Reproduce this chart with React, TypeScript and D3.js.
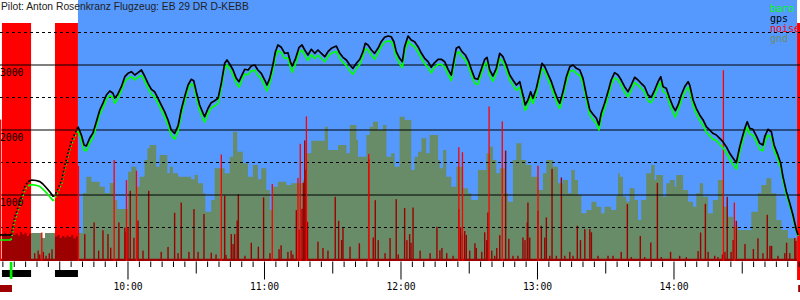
import React from "react";
import * as d3 from "d3";

const W = 800;
const H = 300;
const PLOT_BOTTOM = 261;

const TITLE = "Pilot: Anton Rosenkranz Flugzeug: EB 29 DR D-KEBB";
const HOUR_TICKS = [60, 120, 180, 240, 300];
const HOUR_LABELS = ["10:00", "11:00", "12:00", "13:00", "14:00"];
const ALT_LABELS = [1000, 2000, 3000];
const ALT_GRID_SOLID = [1000, 2000, 3000];
const ALT_GRID_DASHED = [500, 1500, 2500, 3500];
const LEGEND_LABELS = ["baro", "gps", "noise", "gnd"];

// time in minutes after 09:00
const ENGINE_RUNS: [number, number][] = [[4.6, 17.4], [27.9, 38.0]];
const ENGINE_END: [number, number] = [354.1, 355.4];
const FLIGHT_BG: [number, number] = [38.0, 354.1];
const TAKEOFF = 8.6;
const DARKRED_MARKS: [number, number][] = [[3.7, 9.0], [354.6, 355.4]];
const DOTTED_RANGES: [number, number][] = [[8.6, 16.0], [27.2, 38.0]];

const GPS: [number, number][] = [
  [3.7,385],[8.1,385],[8.6,385],[10.3,666],[12.5,897],[14.7,1138],[16.0,1205],[17.7,1231],[19.6,1223],[21.3,1205],[22.6,1169],[24.3,1103],[25.7,1046],[27.2,974],[28.7,1051],[30.9,1231],[32.3,1462],[33.8,1666],[35.3,1846],[37.1,1974],
  [38.0,2051],[39.5,1923],[40.7,1769],[41.7,1754],[43.2,1877],[44.6,1954],[46.1,2128],[47.6,2308],[49.0,2415],[50.5,2538],[52.0,2600],[53.4,2565],[54.2,2492],[55.3,2538],[57.1,2666],[58.6,2820],[60.0,2872],[61.5,2897],[63.0,2846],[64.4,2882],[65.9,2923],[67.3,2831],[68.8,2718],[70.3,2626],[71.7,2589],[73.2,2488],[74.6,2385],[76.1,2282],[77.6,2154],[79.0,2000],[80.5,1949],[82.0,2062],[83.4,2308],[84.9,2512],[86.4,2692],[87.8,2780],[88.9,2758],[90.0,2589],[91.5,2385],[93.0,2257],[93.7,2205],[95.2,2334],[96.6,2420],[98.1,2451],[99.6,2488],[101.0,2718],[102.5,3026],[103.5,3077],[104.7,3015],[106.2,2923],[107.6,2795],[108.8,2743],[110.1,2846],[111.3,2934],[112.8,2923],[114.2,2985],[115.7,3000],[117.1,2923],
  [118.6,2872],[120.1,2769],[121.1,2692],[122.3,2795],[123.7,3000],[124.8,3205],[125.9,3308],[127.4,3272],[128.9,3180],[130.3,3189],[131.5,3035],[132.2,2985],[133.7,3103],[135.2,3272],[136.5,3308],[137.7,3231],[139.1,3154],[140.6,3242],[142.1,3180],[143.5,3231],[145.0,3180],[146.5,3128],[147.9,3205],[149.4,3257],[151.6,3292],[153.1,3180],[154.5,3118],[156.0,3077],[157.5,3000],[158.9,2949],[160.4,3026],[161.9,3088],[163.3,3205],[164.3,3334],[165.5,3308],[167.0,3231],[168.4,3180],[169.9,3257],[171.3,3358],[172.8,3426],[174.3,3446],[175.7,3435],[176.9,3358],[177.9,3205],[179.4,3103],[180.6,3051],[181.6,3282],[183.1,3446],[184.5,3385],[186.0,3358],[187.5,3282],[189.0,3180],[190.4,3103],[191.9,3051],[193.3,2965],[194.5,3026],[196.3,3088],
  [197.7,3088],[199.2,3051],[200.7,2934],[202.1,2846],[203.3,3077],[204.3,3257],[205.5,3282],[206.8,3205],[208.3,3154],[209.8,3051],[210.9,2934],[212.4,2795],[213.8,2780],[215.3,2934],[216.8,3088],[217.8,3118],[219.0,2923],[220.4,2831],[221.9,2949],[223.4,3180],[224.8,3128],[226.3,3000],[227.8,2846],[229.2,2769],[230.7,2692],[232.2,2743],[233.6,2538],[234.6,2385],[235.8,2462],[237.0,2589],[238.0,2488],[239.5,2642],[241.0,2872],[242.0,3026],[243.2,2974],[244.6,2862],[246.1,2743],[247.6,2589],[249.0,2462],[249.8,2411],[251.2,2589],[252.7,2820],[254.2,2974],[255.6,3000],[257.1,2949],[258.6,2923],[260.0,2795],[261.5,2538],[263.0,2308],[264.4,2242],[265.9,2180],[267.0,2077],[268.0,2257],[269.5,2411],[271.0,2589],[272.4,2769],[273.9,2882],[275.4,2846],
  [276.8,2769],[278.3,2666],[279.8,2589],[281.2,2692],[282.7,2811],[284.2,2769],[285.6,2718],[287.1,2666],[288.6,2538],[290.0,2503],[291.5,2615],[293.0,2743],[294.2,2820],[295.2,2666],[296.6,2642],[298.1,2488],[299.6,2358],[300.6,2297],[301.8,2385],[303.2,2538],[304.7,2666],[306.2,2743],[306.9,2692],[308.4,2462],[309.8,2334],[311.3,2231],[312.8,2154],[314.2,2051],[315.7,2000],[317.1,1949],[318.6,1923],[320.1,1872],[321.5,1820],[323.0,1743],[324.5,1641],[326.0,1565],[327.4,1497],[328.9,1743],[330.3,1923],[331.3,2041],[332.2,2128],[333.3,2026],[334.7,2011],[336.2,1908],[337.7,1795],[339.1,1769],[339.9,1897],[341.3,2011],[342.8,1974],[344.0,1769],[345.4,1641],[346.9,1488],[347.9,1282],[349.4,1051],[350.9,872],[352.3,692],[353.8,462],[354.5,385]
];

const BARO: [number, number][] = [
  [3.7,308],[8.1,308],[8.6,310],[10.3,610],[12.5,840],[14.7,1080],[16.0,1140],[17.7,1160],[19.6,1150],[21.3,1130],[22.6,1090],[24.3,1030],[25.7,970],[27.2,910],[28.7,1000],[30.9,1180],[32.3,1410],[33.8,1620],[35.3,1790],[37.1,1930],
  [38.0,1990],[39.5,1850],[40.7,1690],[41.7,1680],[43.2,1800],[44.6,1880],[46.1,2060],[47.6,2240],[49.0,2340],[50.5,2470],[52.0,2530],[53.4,2500],[54.2,2410],[55.3,2470],[57.1,2600],[58.6,2750],[60.0,2790],[61.5,2820],[63.0,2770],[64.4,2810],[65.9,2840],[67.3,2760],[68.8,2640],[70.3,2550],[71.7,2510],[73.2,2410],[74.6,2310],[76.1,2200],[77.6,2080],[79.0,1920],[80.5,1860],[82.0,1980],[83.4,2230],[84.9,2440],[86.4,2620],[87.8,2710],[88.9,2690],[90.0,2510],[91.5,2300],[93.0,2170],[93.7,2120],[95.2,2250],[96.6,2340],[98.1,2370],[99.6,2410],[101.0,2640],[102.5,2950],[103.5,3000],[104.7,2940],[106.2,2840],[107.6,2720],[108.8,2660],[110.1,2770],[111.3,2860],[112.8,2850],[114.2,2910],[115.7,2920],[117.1,2840],
  [118.6,2790],[120.1,2680],[121.1,2600],[122.3,2710],[123.7,2920],[124.8,3120],[125.9,3220],[127.4,3190],[128.9,3100],[130.3,3110],[131.5,2950],[132.2,2890],[133.7,3020],[135.2,3190],[136.5,3230],[137.7,3150],[139.1,3070],[140.6,3160],[142.1,3100],[143.5,3150],[145.0,3100],[146.5,3050],[147.9,3130],[149.4,3180],[151.6,3210],[153.1,3100],[154.5,3040],[156.0,2990],[157.5,2910],[158.9,2860],[160.4,2940],[161.9,3010],[163.3,3130],[164.3,3250],[165.5,3230],[167.0,3150],[168.4,3090],[169.9,3180],[171.3,3280],[172.8,3350],[174.3,3370],[175.7,3360],[176.9,3280],[177.9,3120],[179.4,3020],[180.6,2960],[181.6,3200],[183.1,3370],[184.5,3310],[186.0,3280],[187.5,3200],[189.0,3100],[190.4,3020],[191.9,2960],[193.3,2880],[194.5,2950],[196.3,3010],
  [197.7,3010],[199.2,2970],[200.7,2850],[202.1,2760],[203.3,3000],[204.3,3180],[205.5,3200],[206.8,3130],[208.3,3080],[209.8,2970],[210.9,2850],[212.4,2720],[213.8,2700],[215.3,2860],[216.8,3010],[217.8,3040],[219.0,2840],[220.4,2750],[221.9,2870],[223.4,3100],[224.8,3050],[226.3,2920],[227.8,2770],[229.2,2690],[230.7,2610],[232.2,2660],[233.6,2460],[234.6,2300],[235.8,2380],[237.0,2510],[238.0,2410],[239.5,2560],[241.0,2790],[242.0,2950],[243.2,2900],[244.6,2780],[246.1,2660],[247.6,2510],[249.0,2380],[249.8,2330],[251.2,2510],[252.7,2740],[254.2,2900],[255.6,2920],[257.1,2870],[258.6,2840],[260.0,2710],[261.5,2460],[263.0,2230],[264.4,2160],[265.9,2100],[267.0,2000],[268.0,2180],[269.5,2330],[271.0,2510],[272.4,2690],[273.9,2800],[275.4,2770],
  [276.8,2690],[278.3,2580],[279.8,2510],[281.2,2610],[282.7,2730],[284.2,2690],[285.6,2640],[287.1,2580],[288.6,2450],[290.0,2420],[291.5,2530],[293.0,2660],[294.2,2740],[295.2,2590],[296.6,2560],[298.1,2400],[299.6,2270],[300.6,2200],[301.8,2300],[303.2,2450],[304.7,2580],[306.2,2660],[306.9,2610],[308.4,2380],[309.8,2250],[311.3,2150],[312.8,2070],[314.2,1970],[315.7,1910],[317.1,1860],[318.6,1840],[320.1,1780],[321.5,1730],[323.0,1650],[324.5,1550],[326.0,1470],[327.4,1400],[328.9,1660],[330.3,1840],[331.3,1960],[332.2,2040],[333.3,1940],[334.7,1920],[336.2,1820],[337.7,1700],[339.1,1680],[339.9,1810],[341.3,1920],[342.8,1890],[344.0,1690],[345.4,1570],[346.9,1420],[347.9,1230],[349.4,1000],[350.9,830],[352.3,660],[353.8,440],[354.5,370]
];

const GND: [number, number][] = [
  [17.4,415],[22.1,338],[23.5,415],[38.8,415],[40.2,1031],[41.7,1282],[43.9,1205],[47.6,1128],[49.8,1031],[52.0,1185],[54.2,923],[55.3,785],[60.0,1358],[61.5,1435],[63.7,1128],[65.1,1282],[67.3,1538],[68.5,1718],[69.5,1769],[72.4,1435],[73.9,1615],[77.3,1334],[78.3,1435],[79.8,1334],[82.0,1282],[87.8,1242],[89.3,1308],[90.8,1180],[93.0,1026],[94.0,743],[96.6,923],[98.1,1411],[102.5,1334],[104.7,1589],[106.2,1974],[108.0,1666],[110.5,1488],[112.7,1282],[114.9,1462],
  [117.1,1242],[118.6,1411],[120.8,1077],[122.3,769],[123.7,1128],[125.9,1205],[129.6,1154],[131.8,1180],[136.9,1231],[138.4,1641],[140.6,1835],[146.5,2051],[147.9,1692],[152.3,1769],[156.0,1641],[157.5,2077],[160.4,1846],[161.1,1589],[164.8,1923],[166.2,2051],[167.7,2128],[169.9,2000],[172.1,2077],[173.6,1589],[175.7,1641],[177.2,1435],[179.4,2205],[181.6,2154],[184.5,1385],[186.0,1589],[187.5,1666],[189.0,1872],[191.1,1641],[192.6,1923],
  [196.3,1538],[197.0,1411],[198.5,1692],[199.9,1282],[202.1,1128],[204.3,1435],[207.3,1103],[209.5,1026],[210.9,923],[213.8,1385],[217.5,1641],[219.0,1743],[220.4,1538],[221.9,1334],[223.4,1411],[225.6,1026],[227.0,897],[229.2,1538],[230.7,1795],[232.9,1538],[235.1,1462],[237.3,1282],[240.2,1077],[242.4,1334],[243.9,1538],[246.8,1435],[249.0,1180],[251.2,1231],[253.4,1026],[254.9,1385],[256.4,1231],[257.8,1000],[259.3,718],[261.5,769],[263.7,897],[265.9,820],[268.0,718],[269.5,820],[272.4,769],[274.6,985],
  [275.4,1334],[276.1,1282],[277.6,974],[279.0,897],[280.5,1103],[282.7,923],[284.2,615],[285.6,923],[287.8,1334],[290.0,1462],[291.5,1231],[292.2,1308],[295.2,974],[296.6,1180],[298.1,1231],[300.3,1128],[301.0,1308],[304.0,1077],[306.2,897],[308.4,820],[309.8,1026],[311.3,1180],[312.8,974],[315.0,718],[317.1,923],[319.3,1231],[321.5,820],[323.7,666],[326.0,513],[328.1,462],[334.0,743],[336.9,1026],[338.4,1154],[340.6,1257],[342.8,1026],[345.0,615],[347.2,462],[350.1,334],[354.1,334]
];

// noise (per mille of full height)
const NOISE_LEVEL: [number, number][] = [
  [3.7,9],[4.6,100],[5.5,108],[6.5,96],[7.5,104],[8.5,112],[9.5,100],[10.5,106],[11.5,98],[12.5,110],[13.5,102],[14.5,108],[15.5,96],[16.5,104],[17.4,9],
  [27.9,94],[29.0,100],[30.0,88],[31.0,96],[32.0,90],[33.0,98],[34.0,92],[35.0,100],[36.0,86],[37.0,94],[38.0,9],[354.1,9]
];

const NOISE_SPIKES: [number, number][] = [
  [19.0,30],[20.5,40],[21.2,25],[22.8,35],[24.0,20],[25.4,30],[26.6,45],
  [41.0,103],[45.1,148],[47.1,40],[49.0,118],[51.2,103],[52.4,51],[56.0,148],[58.6,128],[59.1,110],[60.0,128],[61.0,269],[62.6,89],[64.4,155],[66.6,40],[69.1,269],[74.6,35],[77.6,54],[80.5,185],[82.0,30],[83.4,224],[86.8,35],[89.0,199],[90.8,35],[93.4,180],[96.6,32],[98.7,25],[102.5,250],[103.1,23],[105.4,103],[106.2,65],[106.9,103],[108.0,155],[108.5,256],[111.4,20],[114.2,70],[117.3,55],
  [119.6,244],[122.4,30],[126.4,45],[127.3,60],[130.3,35],[131.7,40],[132.5,25],[134.0,195],[135.2,120],[136.5,200],[137.1,300],[137.7,462],[138.2,350],[138.9,150],[143.5,74],[145.7,50],[147.9,40],[151.1,246],[152.6,154],[153.9,80],[154.5,126],[157.6,55],[161.7,68],[165.8,390],[167.8,90],[168.7,233],[170.0,80],[173.0,30],[175.2,88],[177.9,237],[178.8,25],[181.6,203],[182.6,80],[183.8,103],[184.4,70],[185.3,205],[188.4,40],[192.8,30],[195.8,131],[197.1,41],[198.0,50],[200.1,30],
  [202.9,20],[205.4,199],[206.2,130],[207.0,100],[208.0,115],[208.7,100],[210.2,40],[212.5,68],[213.1,50],[215.5,35],[216.8,110],[217.7,80],[218.2,186],[219.9,40],[221.2,20],[222.1,50],[223.4,99],[226.0,423],[227.4,85],[229.2,20],[231.4,20],[233.6,90],[234.5,80],[235.5,148],[235.8,224],[236.6,90],[240.2,192],[241.7,135],[243.2,90],[243.9,167],[245.4,20],[246.4,353],[248.3,20],[250.5,320],[252.0,20],[254.2,35],[255.6,20],[257.5,135],[258.9,80],[260.8,122],[263.0,122],[263.7,110],[266.6,20],[271.0,20],[273.2,20],
  [276.8,35],[279.5,218],[281.2,15],[285.2,96],[287.1,15],[289.8,71],[292.7,299],[294.4,15],[298.5,35],[302.5,20],[305.4,15],[310.6,38],[311.7,109],[313.8,219],[315.0,35],[317.9,20],[319.3,15],[321.3,25],[322.4,35],[323.4,246],[325.1,35],[326.0,80],[327.4,154],[331.2,65],[334.9,46],[336.9,87],[339.1,30],[341.0,177],[342.2,58],[342.9,58],[345.7,20],[348.7,30],[349.5,70],[350.9,30],[353.1,88],[353.6,77]
];

const NOISE_PEAKS: [number, number][] = [
  [4.0,542],[22.1,109],[38.2,365],[53.9,387],[59.3,310],[63.7,346],[101.0,408],[123.4,295],[134.7,318],[135.7,449],[138.4,554],[165.8,410],[205.4,436],[207.0,417],[218.7,592],[224.5,535],[240.2,365],[321.7,731],[326.5,224]
];

const COLORS = {
  sky: "#5599ff",
  gnd: "#678c67",
  engine: "#ff0000",
  noiseDark: "#9c0000",
  noise: "#ff0000",
  baro: "#00ff00",
  gps: "#000000",
};
const LEGEND_COLORS = [COLORS.baro, COLORS.gps, COLORS.noise, COLORS.gnd];

function splitSegments(points: [number, number][], ranges: [number, number][]) {
  const segs: { dotted: boolean; pts: [number, number][] }[] = [];
  for (let i = 0; i < points.length - 1; i++) {
    const a = points[i];
    const b = points[i + 1];
    const mid = (a[0] + b[0]) / 2;
    const dotted = ranges.some(([s, e]) => mid >= s && mid <= e);
    const last = segs[segs.length - 1];
    if (last && last.dotted === dotted) last.pts.push(b);
    else segs.push({ dotted, pts: [a, b] });
  }
  return segs;
}

export default function App() {
  const x = d3.scaleLinear().domain([3.74, 355.39]).range([0, W]);
  const yAlt = d3.scaleLinear().domain([0, 4000]).range([260, 0]);
  const yNoise = d3.scaleLinear().domain([0, 1000]).range([PLOT_BOTTOM, 0]);

  const gndArea = d3
    .area<[number, number]>()
    .x((d) => x(d[0]))
    .y0(PLOT_BOTTOM)
    .y1((d) => yAlt(d[1]))
    .curve(d3.curveStepAfter);

  const noiseArea = d3
    .area<[number, number]>()
    .x((d) => x(d[0]))
    .y0(PLOT_BOTTOM)
    .y1((d) => yNoise(d[1]))
    .curve(d3.curveStepAfter);

  const line = d3
    .line<[number, number]>()
    .x((d) => x(d[0]))
    .y((d) => yAlt(d[1]));

  const ticks = d3.range(5, 356, 5);
  const mono = "'DejaVu Sans Mono', monospace";

  const renderSeries = (pts: [number, number][], color: string, key: string) =>
    splitSegments(pts, DOTTED_RANGES).map((s, i) => (
      <path
        key={key + i}
        d={line(s.pts) || ""}
        fill="none"
        stroke={color}
        strokeWidth={1.7}
        strokeDasharray={s.dotted ? "1.6 2.2" : undefined}
        strokeLinejoin="round"
      />
    ));

  return (
    <svg
      width={W}
      height={H}
      viewBox={`0 0 ${W} ${H}`}
      style={{ position: "absolute", left: 0, top: 0, background: "#fff" }}
    >
      <rect
        x={x(FLIGHT_BG[0])}
        y={0}
        width={x(FLIGHT_BG[1]) - x(FLIGHT_BG[0])}
        height={PLOT_BOTTOM}
        fill={COLORS.sky}
      />
      <path d={gndArea(GND) || ""} fill={COLORS.gnd} />
      {ENGINE_RUNS.map(([s, e], i) => (
        <rect key={"eng" + i} x={x(s)} y={23} width={x(e) - x(s)} height={PLOT_BOTTOM - 23} fill={COLORS.engine} />
      ))}
      <rect
        x={x(ENGINE_END[0])}
        y={23}
        width={x(ENGINE_END[1]) - x(ENGINE_END[0])}
        height={280 - 23}
        fill={COLORS.engine}
      />
      <path d={noiseArea(NOISE_LEVEL) || ""} fill={COLORS.noiseDark} />
      {NOISE_SPIKES.map(([t, v], i) => (
        <rect key={"ns" + i} x={x(t) - 0.7} y={yNoise(v)} width={1.4} height={PLOT_BOTTOM - yNoise(v)} fill={COLORS.noiseDark} />
      ))}
      {ALT_GRID_SOLID.map((a) => (
        <line key={"gs" + a} x1={0} x2={W} y1={yAlt(a)} y2={yAlt(a)} stroke="#000" strokeWidth={1.2} />
      ))}
      {ALT_GRID_DASHED.map((a) => (
        <line key={"gd" + a} x1={0} x2={W} y1={yAlt(a)} y2={yAlt(a)} stroke="#000" strokeWidth={1.2} strokeDasharray="3 3" />
      ))}
      {NOISE_PEAKS.map(([t, v], i) => (
        <rect key={"np" + i} x={x(t) - 0.6} y={yNoise(v)} width={1.3} height={PLOT_BOTTOM - yNoise(v)} fill={COLORS.noise} />
      ))}
      {renderSeries(BARO, COLORS.baro, "baro")}
      {renderSeries(GPS, COLORS.gps, "gps")}

      {ALT_LABELS.map((a) => (
        <text key={"al" + a} x={0} y={yAlt(a) + 10.5} fontFamily={mono} fontSize={9.7} fill="#000">
          {a}
        </text>
      ))}

      {ticks.map((t) => {
        const len = t % 60 === 0 ? 18 : t % 30 === 0 ? 12 : 5.5;
        return (
          <line key={"tk" + t} x1={x(t)} x2={x(t)} y1={261.5} y2={261.5 + len} stroke="#000" strokeWidth={1} />
        );
      })}
      {HOUR_TICKS.map((t, i) => (
        <text key={"hl" + t} x={x(t)} y={290} textAnchor="middle" fontFamily={mono} fontSize={9.7} fill="#000">
          {HOUR_LABELS[i]}
        </text>
      ))}

      {ENGINE_RUNS.map(([s, e], i) => (
        <rect key={"eb" + i} x={x(s)} y={270} width={x(e) - x(s)} height={7} fill="#000" />
      ))}
      <rect x={x(TAKEOFF) - 1.3} y={262} width={2.7} height={17} fill="#00ee00" />
      {DARKRED_MARKS.map(([s, e], i) => (
        <rect key={"dm" + i} x={x(s)} y={285} width={x(e) - x(s)} height={7} fill={COLORS.noiseDark} />
      ))}

      <text x={1} y={10} fontFamily="'Liberation Sans', Arial, sans-serif" fontSize={10.3} fill="#222">
        {TITLE}
      </text>
      {LEGEND_LABELS.map((l, i) => (
        <text key={"lg" + l} x={770} y={11.5 + i * 10} fontFamily={mono} fontSize={10} fill={LEGEND_COLORS[i]}>
          {l}
        </text>
      ))}
    </svg>
  );
}
